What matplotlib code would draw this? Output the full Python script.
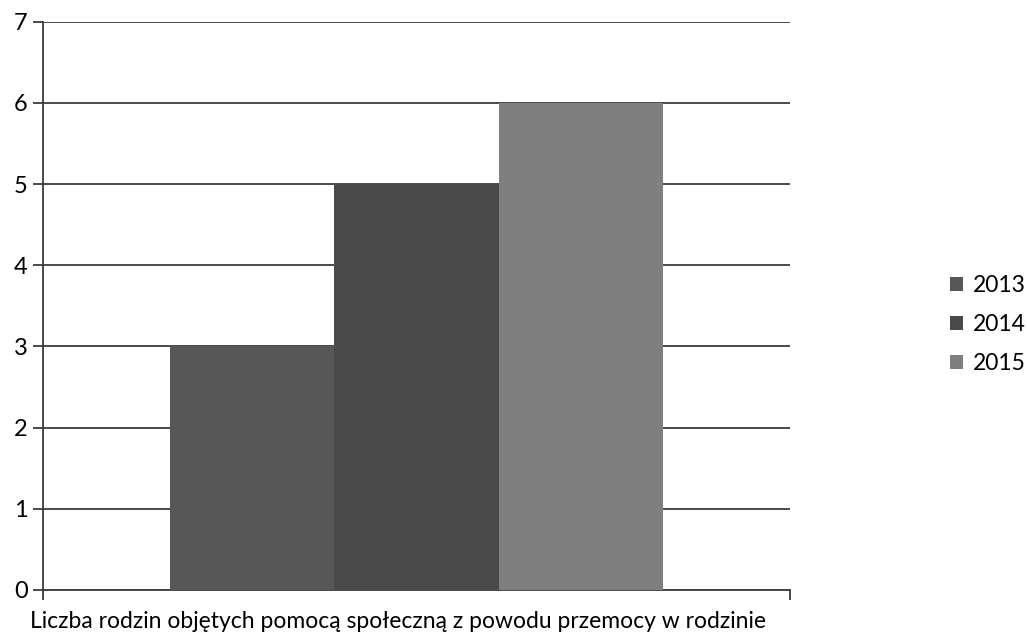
import matplotlib
matplotlib.use("Agg")
import matplotlib.pyplot as plt
import numpy as np

plt.rcParams["font.family"] = ["Lato", "DejaVu Sans"]

# dane
years = ["2013", "2014", "2015"]
values = [3, 5, 6]
colors = ["#575757", "#4a4a4a", "#7f7f7f"]
xlabel = "Liczba rodzin objętych pomocą społeczną z powodu przemocy w rodzinie"

fig = plt.figure(figsize=(10.27, 6.37), dpi=100)
ax = fig.add_axes([0.042, 0.074, 0.727, 0.892])

width = 0.2205
offsets = (np.arange(len(years)) - 1) * width
for off, v, c, y in zip(offsets, values, colors, years):
    ax.bar(off, v, width=width, color=c, label=y, zorder=3)

ax.set_xlim(-0.5, 0.5)
ax.set_ylim(0, 7)
ax.set_yticks(range(0, 8))
ax.yaxis.grid(True, color="#3c3c3c", linewidth=1.3, zorder=0)
ax.set_xticks([-0.5, 0.5])
ax.set_xticklabels([])
ax.tick_params(axis="x", direction="out", length=7, width=1.3, color="#3c3c3c")
ax.tick_params(axis="y", direction="out", length=7, width=1.3, color="#3c3c3c",
               labelsize=17, pad=4)

for s in ["top", "right"]:
    ax.spines[s].set_visible(False)
for s in ["left", "bottom"]:
    ax.spines[s].set_color("#3c3c3c")
    ax.spines[s].set_linewidth(1.3)

ax.set_xlabel(xlabel, fontsize=16.5, labelpad=5, x=0.475)

fig.legend(loc="upper left", bbox_to_anchor=(0.925, 0.568), frameon=False,
           handlelength=0.55, handleheight=0.55, handletextpad=0.45,
           labelspacing=0.78, borderpad=0, borderaxespad=0,
           prop={"size": 16.5})

fig.savefig("out.png", dpi=100)
